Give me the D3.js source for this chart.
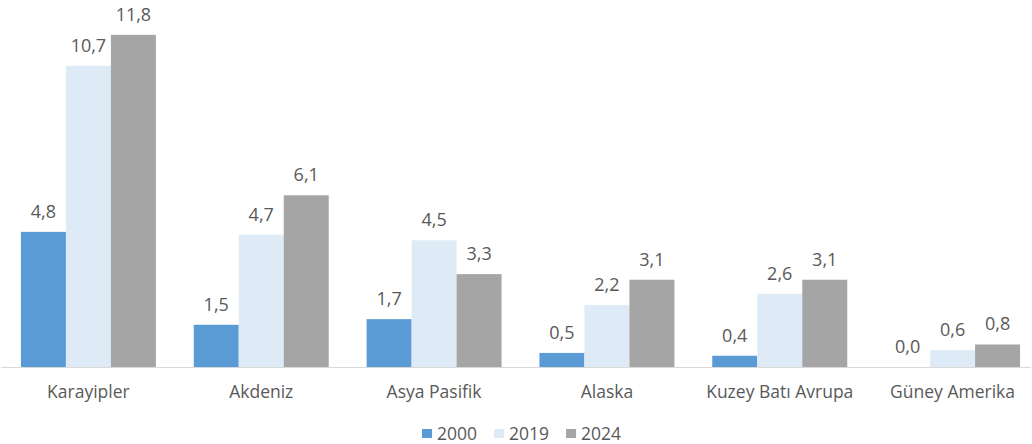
<!DOCTYPE html>
<html>
<head>
<meta charset="utf-8">
<script src="https://cdn.jsdelivr.net/npm/d3@7"></script>
<style>
  body { margin: 0; background: #fff; }
  svg text { font-family: "Open Sans", "Segoe UI", sans-serif; fill: #595959; }
</style>
</head>
<body>
<div id="chart"></div>
<script>
const categories = ["Karayipler", "Akdeniz", "Asya Pasifik", "Alaska", "Kuzey Batı Avrupa", "Güney Amerika"];
const seriesNames = ["2000", "2019", "2024"];
const values2000 = [4.8, 1.5, 1.7, 0.5, 0.4, 0.0];
const values2019 = [10.7, 4.7, 4.5, 2.2, 2.6, 0.6];
const values2024 = [11.8, 6.1, 3.3, 3.1, 3.1, 0.8];
const colors = ["#5b9bd5", "#deebf7", "#a5a5a5"];

const width = 1032, height = 444;
const baseY = 367;

const svg = d3.select("#chart").append("svg")
    .attr("width", width)
    .attr("height", height);

const x = d3.scaleBand()
    .domain(categories)
    .range([2, 1039])
    .paddingInner(0.219)
    .paddingOuter(0.1095);

const xs = d3.scaleBand()
    .domain(seriesNames)
    .range([0, x.bandwidth()]);

const y = d3.scaleLinear()
    .domain([0, 12])
    .range([baseY, 29.2]);

const allSeries = [values2000, values2019, values2024];

const groups = svg.selectAll("g.cat")
    .data(categories)
    .enter().append("g")
    .attr("class", "cat")
    .attr("transform", d => "translate(" + x(d) + ",0)");

groups.each(function (cat, ci) {
    const g = d3.select(this);
    seriesNames.forEach((s, si) => {
        const v = allSeries[si][ci];
        g.append("rect")
            .attr("x", xs(s))
            .attr("y", y(v))
            .attr("width", xs.bandwidth())
            .attr("height", baseY - y(v))
            .attr("fill", colors[si]);
        g.append("text")
            .attr("x", xs(s) + xs.bandwidth() / 2)
            .attr("y", y(v) - 14)
            .attr("text-anchor", "middle")
            .style("font-size", "18px")
            .text(v.toFixed(1).replace(".", ","));
    });
});

// axis line
svg.append("line")
    .attr("x1", 1).attr("x2", 1031)
    .attr("y1", baseY + 0.5).attr("y2", baseY + 0.5)
    .attr("stroke", "#d9d9d9")
    .attr("stroke-width", 1);

svg.selectAll("text.cat-label")
    .data(categories)
    .enter().append("text")
    .attr("class", "cat-label")
    .attr("x", d => x(d) + x.bandwidth() / 2)
    .attr("y", 398)
    .attr("text-anchor", "middle")
    .style("font-size", "17.5px")
    .text(d => d);

// legend
const legend = svg.append("g");
let lx = 422;
seriesNames.forEach((s, i) => {
    legend.append("rect")
        .attr("x", lx).attr("y", 429)
        .attr("width", 10).attr("height", 9)
        .attr("fill", colors[i]);
    const t = legend.append("text")
        .attr("x", lx + 15)
        .attr("y", 440)
        .style("font-size", "17.5px")
        .text(s);
    lx += 15 + t.node().getComputedTextLength() + 17;
});
</script>
</body>
</html>
